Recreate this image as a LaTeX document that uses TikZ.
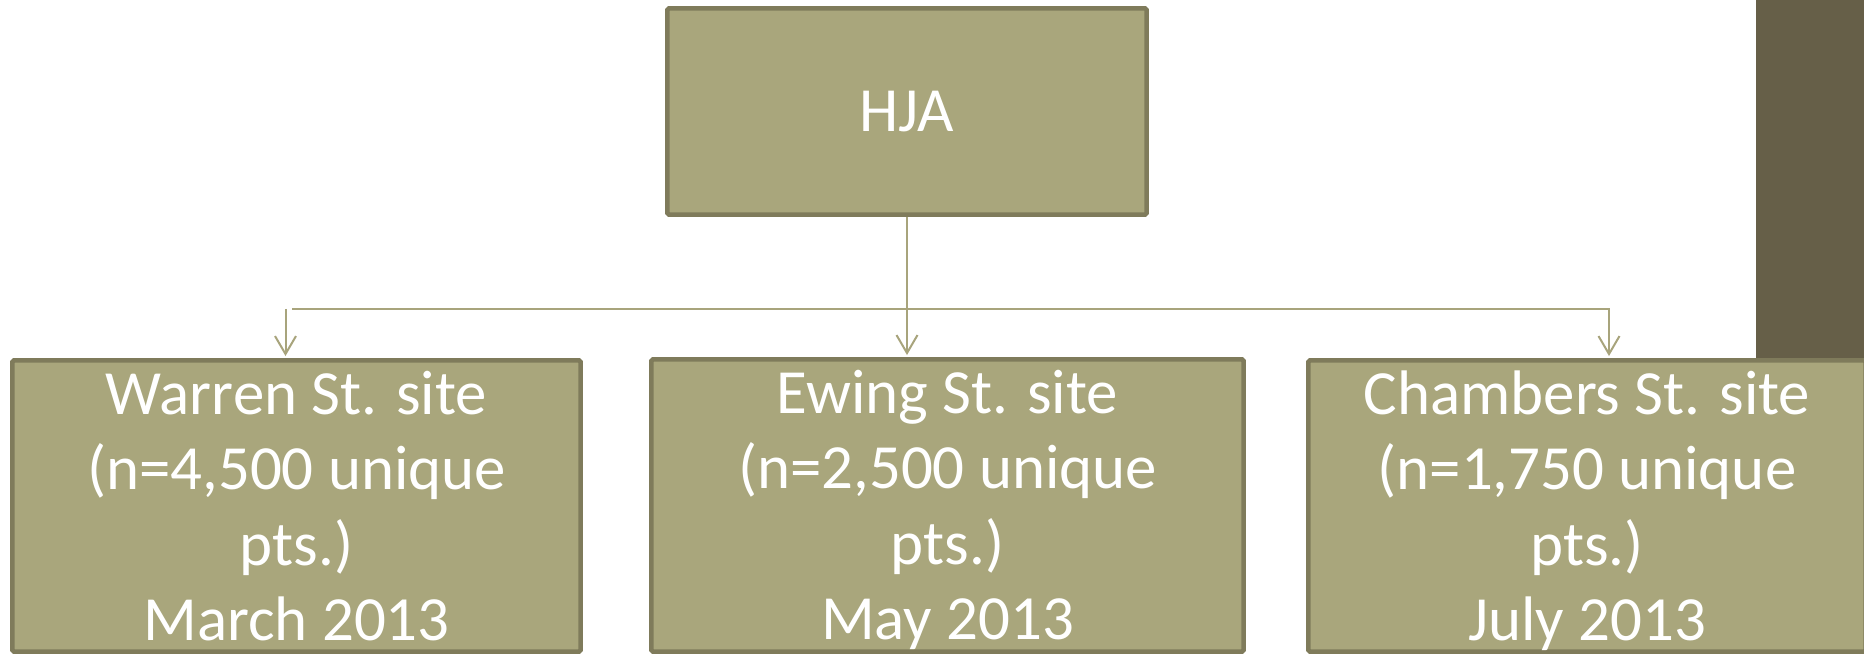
\documentclass[tikz,border=0pt]{standalone}
\usepackage{fontspec}
\setmainfont{Carlito}
\usepackage{tikz}
\usetikzlibrary{arrows.meta,positioning}

\definecolor{boxfill}{HTML}{A9A67C}
\definecolor{boxline}{HTML}{7F7B5B}
\definecolor{linkcol}{HTML}{A8A47C}
\definecolor{barcol}{HTML}{665F48}
\definecolor{glowgray}{HTML}{EAEAEA}

\pgfdeclareradialshading{pageglow}{\pgfpoint{0bp}{0bp}}{color(0bp)=(white); color(33bp)=(white); color(46bp)=(glowgray); color(50bp)=(glowgray)}

\newcommand{\siteStrut}{\rule{0pt}{31.7pt}}

\begin{document}
\begin{tikzpicture}[x=0.02cm, y=-0.02cm,
    orgbox/.style={draw=boxline, fill=boxfill, line width=0.09cm, rounded corners=1pt, inner sep=0pt},
    sitetext/.style={text=white, align=center, inner sep=0pt, font=\fontsize{35.8pt}{43pt}\selectfont},
    link/.style={draw=linkcol, line width=0.04cm, shorten >=0.04cm, -{Straight Barb[length=0.36cm,width=0.42cm]}}]
    \useasboundingbox (0,0) rectangle (1864,655);
    \clip (0,0) rectangle (1864,655);
    % page background and side bar
    \shade[shading=pageglow] (750,400) circle [radius=24cm];
    \fill[barcol] (1756,0) rectangle (1864,358);

    \node[orgbox, sitetext, minimum width=9.59cm, minimum height=4.13cm] (hja) at (907,111.5) {HJA};
    \node[orgbox, minimum width=11.37cm, minimum height=5.83cm] (warren) at (296.5,506) {};
    \node[orgbox, minimum width=11.85cm, minimum height=5.85cm] (ewing) at (947.5,505.5) {};
    \node[orgbox, minimum width=11.15cm, minimum height=5.83cm] (chambers) at (1587,506) {};

    \node[sitetext] (warren text) [below=0pt of warren.north] {\siteStrut Warren St. site\\(n=4,500 unique\\pts.)\\March 2013};
    \node[sitetext] (ewing text) [below=0pt of ewing.north] {\siteStrut Ewing St. site\\(n=2,500 unique\\pts.)\\May 2013};
    \node[sitetext] (chambers text) [below=0pt of chambers.north] {\siteStrut Chambers St. site\\(n=1,750 unique\\pts.)\\July 2013};

    % connectors
    \coordinate (bus start) at (292,309);
    \coordinate (bus end) at (1609,309);
    \coordinate (warren drop) at (285.5,309);
    \draw[link] (hja.south) -- (hja.south |- ewing.north);
    \draw[link] (bus start) -- (bus end) -- (bus end |- chambers.north);
    \draw[link] (warren drop) -- (warren drop |- warren.north);
\end{tikzpicture}
\end{document}
